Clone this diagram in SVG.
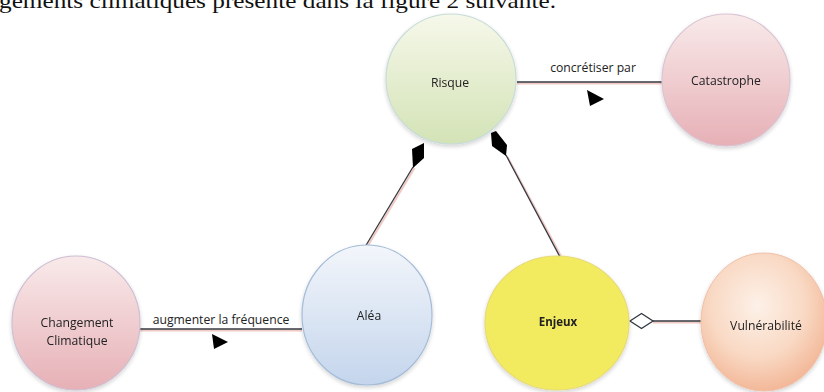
<svg xmlns="http://www.w3.org/2000/svg" width="824" height="392" viewBox="0 0 824 392">
  <defs>
    <linearGradient id="gGreen" x1="0" y1="0" x2="0" y2="1">
      <stop offset="0" stop-color="#f6f8ea"/>
      <stop offset="1" stop-color="#d3e3b6"/>
    </linearGradient>
    <linearGradient id="gPink" x1="0" y1="0" x2="0" y2="1">
      <stop offset="0" stop-color="#f9eaea"/>
      <stop offset="1" stop-color="#e6b0b6"/>
    </linearGradient>
    <linearGradient id="gBlue" x1="0" y1="0" x2="0" y2="1">
      <stop offset="0" stop-color="#f3f6fb"/>
      <stop offset="1" stop-color="#c4d5ec"/>
    </linearGradient>
    <radialGradient id="gPeach" cx="0.45" cy="0.38" r="0.68">
      <stop offset="0" stop-color="#fdf1e8"/>
      <stop offset="0.55" stop-color="#f9d9c4"/>
      <stop offset="1" stop-color="#f1b08e"/>
    </radialGradient>
    <filter id="soft" x="-20%" y="-20%" width="140%" height="140%">
      <feGaussianBlur in="SourceAlpha" stdDeviation="2"/>
      <feOffset dx="0" dy="2"/>
      <feComponentTransfer><feFuncA type="linear" slope="0.18"/></feComponentTransfer>
      <feMerge><feMergeNode/><feMergeNode in="SourceGraphic"/></feMerge>
    </filter>
  </defs>
  <style>
    .lbl { font-family: "Open Sans", "Liberation Sans", sans-serif; font-size: 12.2px; fill: #222; text-anchor: middle; }
    .bold { font-weight: bold; font-size: 11.5px; }
    .edge { fill: none; stroke: #333840; stroke-width: 1.3; }
    .glow { fill: none; stroke: #eab2a8; stroke-width: 2; opacity: 0.7; }
    .head { fill: #000; }
    .body { font-family: "Liberation Serif", "Times New Roman", serif; font-size: 21px; fill: #111; }
  </style>

  <!-- running paragraph line, cut by the top edge -->
  <text class="body" x="-1" y="8" textLength="557" lengthAdjust="spacingAndGlyphs">gements climatiques présenté dans la figure 2 suivante.</text>

  <!-- connectors -->
  <g id="connectors">
    <!-- Risque -> Catastrophe -->
    <line class="glow" x1="517" y1="83.5" x2="662" y2="83.5"/>
    <line class="edge" x1="517" y1="82" x2="662" y2="82"/>
    <text class="lbl" x="593" y="72">concrétiser par</text>
    <polygon class="head" points="587,90 604,99 590,106"/>

    <!-- Changement Climatique -> Aléa -->
    <line class="glow" x1="140" y1="330.5" x2="302" y2="330.5"/>
    <line class="edge" x1="140" y1="329" x2="302" y2="329"/>
    <text class="lbl" x="221" y="324">augmenter la fréquence</text>
    <polygon class="head" points="212,334 228,342 214,349"/>

    <!-- Aléa -> Risque (filled diamond) -->
    <line class="glow" x1="366.5" y1="248" x2="414.5" y2="168"/>
    <line class="edge" x1="365" y1="247" x2="413" y2="167"/>
    <polygon class="head" points="412,149 424,143 424,158 413,168"/>

    <!-- Enjeux -> Risque (filled diamond) -->
    <line class="glow" x1="561.5" y1="257" x2="507.5" y2="157"/>
    <line class="edge" x1="560" y1="257" x2="506" y2="155"/>
    <polygon class="head" points="491,133 496,131 507,145 506,156 492,146"/>

    <!-- Vulnérabilité -> Enjeux (hollow diamond) -->
    <line class="glow" x1="653" y1="322.5" x2="703" y2="322.5"/>
    <line class="edge" x1="653" y1="321" x2="703" y2="321"/>
    <polygon points="630,321 641.5,313.5 653,321 641.5,328.5" fill="#fff" stroke="#333840" stroke-width="1.3"/>
  </g>

  <!-- nodes -->
  <g id="risque" filter="url(#soft)">
    <circle cx="451" cy="79" r="65" fill="url(#gGreen)" stroke="#c7dcd8" stroke-width="1.2"/>
    <text class="lbl" x="450" y="87">Risque</text>
  </g>

  <g id="catastrophe" filter="url(#soft)">
    <ellipse cx="726" cy="80" rx="64" ry="66" fill="url(#gPink)" stroke="#d9c4d4" stroke-width="1.2"/>
    <text class="lbl" x="726" y="85">Catastrophe</text>
  </g>

  <g id="changement" filter="url(#soft)">
    <ellipse cx="76" cy="323" rx="64" ry="67" fill="url(#gPink)" stroke="#cdbfd3" stroke-width="1.2"/>
    <text class="lbl" x="77" y="327">Changement</text>
    <text class="lbl" x="77" y="345">Climatique</text>
  </g>

  <g id="alea" filter="url(#soft)">
    <ellipse cx="367" cy="315" rx="65" ry="70" fill="url(#gBlue)" stroke="#a4bcd8" stroke-width="1.2"/>
    <text class="lbl" x="369" y="320">Aléa</text>
  </g>

  <g id="enjeux" filter="url(#soft)">
    <ellipse cx="557" cy="323" rx="72" ry="67" fill="#f3eb5e" stroke="#e6da78" stroke-width="1.2"/>
    <text class="lbl bold" x="558" y="326">Enjeux</text>
  </g>

  <g id="vulnerabilite" filter="url(#soft)">
    <ellipse cx="764" cy="322" rx="63" ry="69" fill="url(#gPeach)" stroke="#f0c0a8" stroke-width="1"/>
    <text class="lbl" x="766" y="330">Vulnérabilité</text>
  </g>
</svg>
